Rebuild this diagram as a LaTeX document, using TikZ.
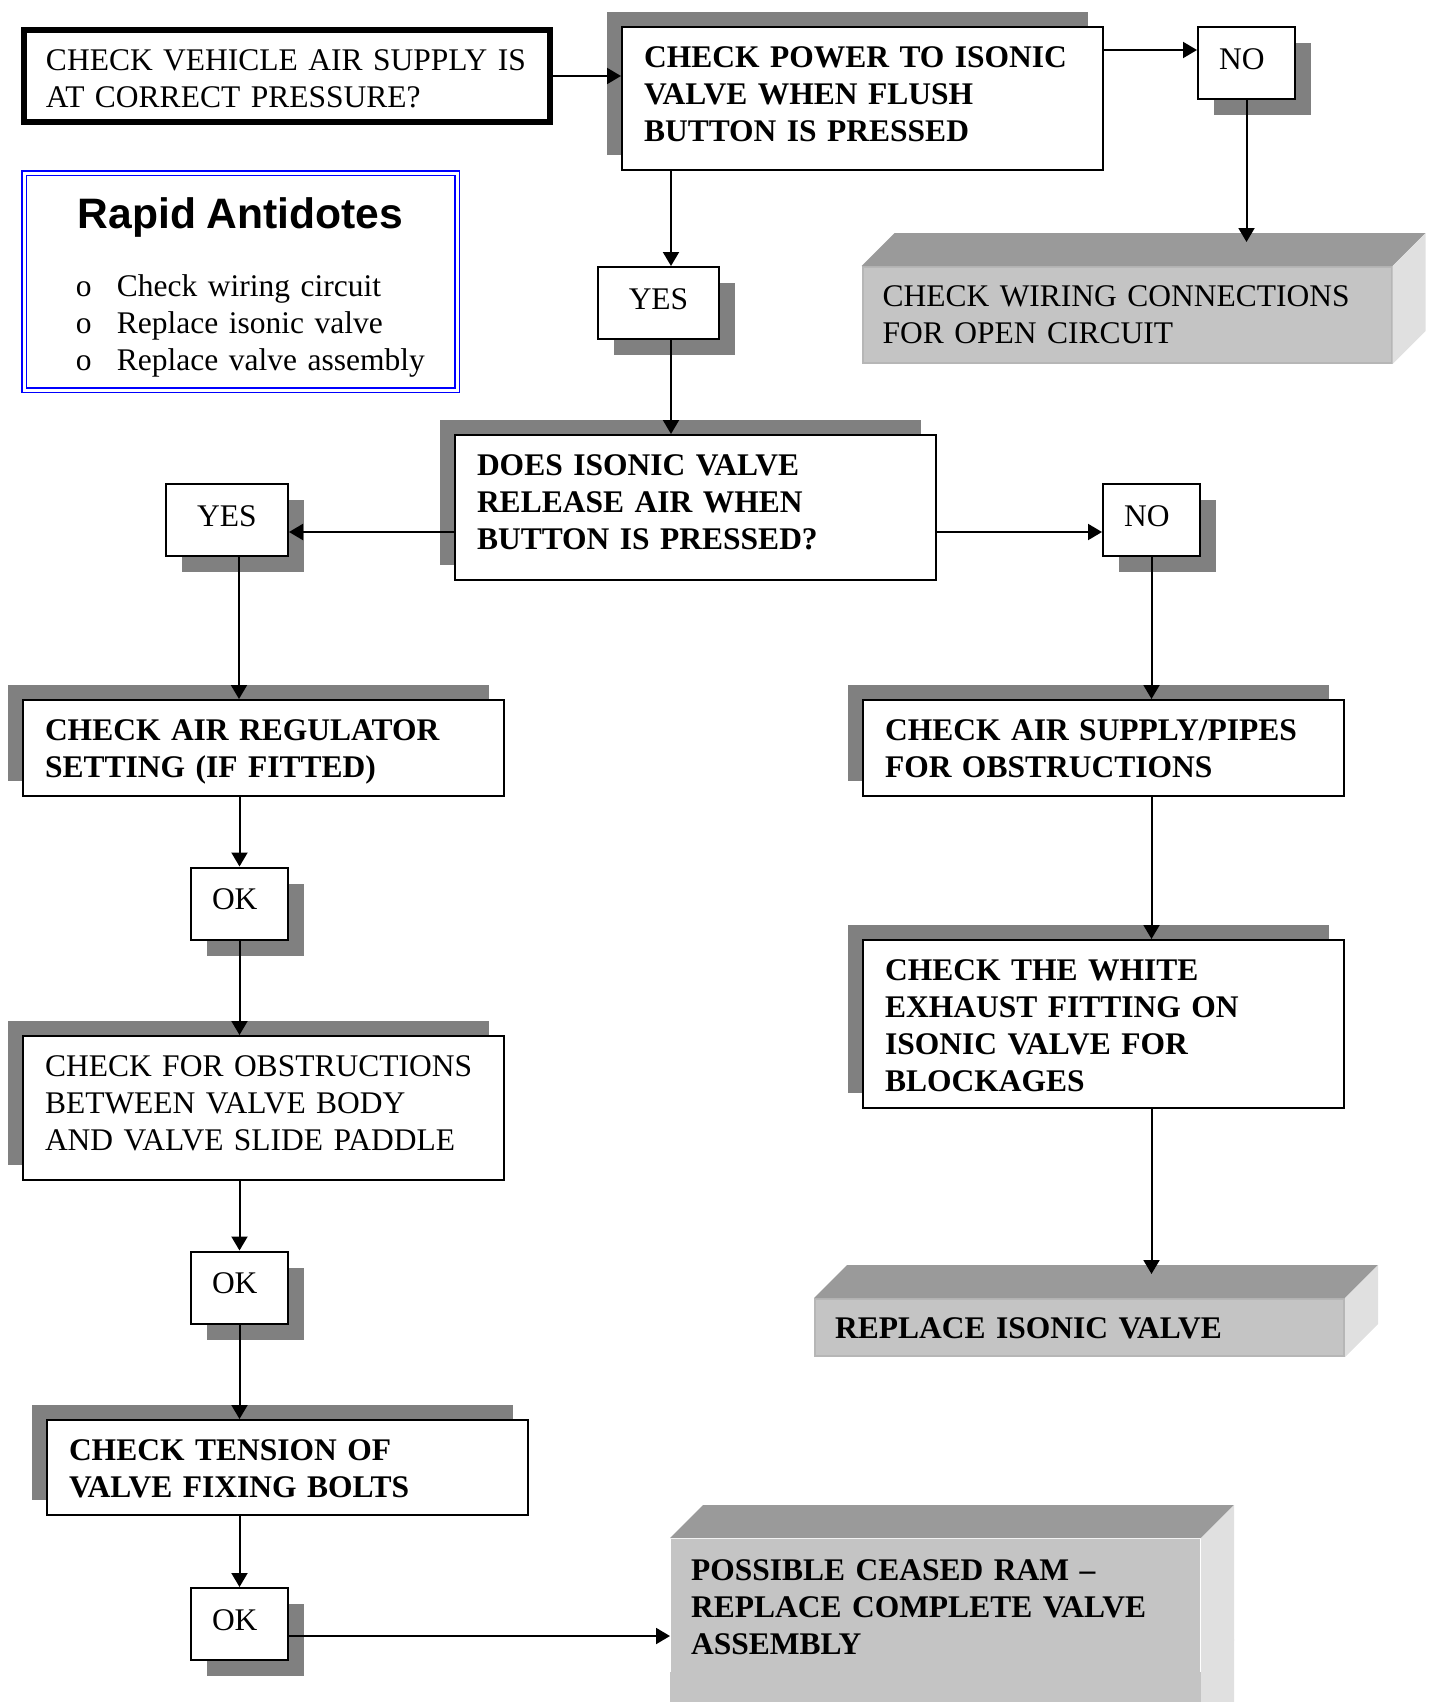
\documentclass[tikz,border=0pt]{standalone}
\usepackage{fontspec}
\usepackage{xcolor}
\setmainfont{Liberation Serif}[WordSpace=0.75]
\newfontfamily\headfont{Liberation Sans}
\usetikzlibrary{arrows.meta,shadows}

\definecolor{shadowgray}{HTML}{808080}
\definecolor{facefront}{HTML}{C4C4C4}
\definecolor{faceedge}{HTML}{B6B6B6}
\definecolor{facetop}{HTML}{9A9A9A}
\definecolor{faceside}{HTML}{E0E0E0}
\definecolor{antiblue}{HTML}{0000FF}

\newcommand\boxfont{\fontsize{15.75pt}{18.5pt}\selectfont}

\tikzset{
  every node/.style={font=\boxfont},
  toptext/.style={inner ysep=0pt, text height=20.3pt, text depth=#1},
  stepbox/.style={draw, line width=1pt, fill=white, align=left, inner xsep=11pt,
    text width=218.5pt, minimum width=240.5pt,
    drop shadow={shadow xshift=-7.5pt, shadow yshift=7.5pt, fill=shadowgray, opacity=1}},
  boldbox/.style={stepbox, font=\boxfont\bfseries},
  answer/.style={draw, line width=1pt, fill=white, minimum height=36pt, inner sep=0pt,
    text depth=4.4pt,
    drop shadow={shadow xshift=8pt, shadow yshift=-8pt, fill=shadowgray, opacity=1}},
  answerleft/.style={answer, align=left, inner xsep=10.5pt, text width=27.5pt,
    minimum width=48.5pt},
  slab/.style={fill=facefront, draw=faceedge, line width=1pt, align=left,
    inner xsep=10pt, text width=244.5pt, minimum width=264.5pt, font=\boxfont\bfseries},
  arr/.style={line width=1pt, -{Triangle[length=7pt,width=8pt]}}
}

\begin{document}
\begin{tikzpicture}[x=0.5pt, y=-0.5pt]
      \def\depth{33}
      \clip (0,0) rectangle (1435,1702);

      \node[draw, line width=3pt, align=left, inner xsep=11pt, text width=241pt,
        minimum width=263pt, minimum height=46pt, toptext=25.7pt] (supply) at (287,76)
        {CHECK VEHICLE AIR SUPPLY IS\\AT CORRECT PRESSURE?};
      \node[boldbox, minimum height=71.5pt, toptext=51.2pt] (power) at (862.5,98.5)
        {CHECK POWER TO ISONIC\\VALVE WHEN FLUSH\\BUTTON IS PRESSED};
      \node[answerleft] (nopower) at (1246.5,63) {NO};
      \node[slab, minimum height=48pt, toptext=28.3pt, text height=19.7pt, font=\boxfont]
        (wiring) at (1127,315) {CHECK WIRING CONNECTIONS\\FOR OPEN CIRCUIT};

      \node[draw=antiblue, double, double distance=1.5pt, line width=0.75pt,
        minimum width=216.5pt, minimum height=108.5pt, text width=216.5pt,
        inner sep=0pt, text height=27.5pt, text depth=81pt] (antidotes) at (240.5,281.5)
        {{\centering\headfont\bfseries\fontsize{21.3pt}{24pt}\selectfont Rapid Antidotes\par}
         \vspace{15.5pt}
         \hspace*{26pt}\makebox[20.5pt][l]{o}Check wiring circuit\par
         \hspace*{26pt}\makebox[20.5pt][l]{o}Replace isonic valve\par
         \hspace*{26pt}\makebox[20.5pt][l]{o}Replace valve assembly\par};

      \node[answer, minimum width=60.5pt] (yespower) at (658.5,303) {YES};
      \node[boldbox, minimum height=72.5pt, toptext=52.2pt] (release) at (695.5,507.5)
        {DOES ISONIC VALVE\\RELEASE AIR WHEN\\BUTTON IS PRESSED?};
      \node[answer, minimum width=61pt] (yesair) at (227,520) {YES};
      \node[answerleft] (noair) at (1151.5,520) {NO};

      \node[boldbox, minimum height=48pt, toptext=27.7pt] (regulator) at (263.5,748)
        {CHECK AIR REGULATOR\\SETTING (IF FITTED)};
      \node[boldbox, minimum height=48pt, toptext=27.7pt] (pipes) at (1103.5,748)
        {CHECK AIR SUPPLY/PIPES\\FOR OBSTRUCTIONS};
      \node[answerleft] (okregulator) at (239.5,903.5) {OK};
      \node[stepbox, minimum height=72pt, toptext=51.7pt] (paddle) at (263.5,1108)
        {CHECK FOR OBSTRUCTIONS\\BETWEEN VALVE BODY\\AND VALVE SLIDE PADDLE};
      \node[boldbox, minimum height=84pt, toptext=63.7pt] (exhaust) at (1103.5,1024)
        {CHECK THE WHITE\\EXHAUST FITTING ON\\ISONIC VALVE FOR\\BLOCKAGES};
      \node[answerleft] (okpaddle) at (239.5,1287.5) {OK};
      \node[slab, minimum height=28.5pt, toptext=9pt, text height=19.5pt]
        (replace) at (1079.5,1327.5) {REPLACE ISONIC VALVE};
      \node[boldbox, minimum height=47.5pt, toptext=27.2pt] (bolts) at (287.5,1467.5)
        {CHECK TENSION OF\\VALVE FIXING BOLTS};
      \node[answerleft] (okbolts) at (239.5,1624) {OK};
      \node[slab, draw=none, minimum height=67pt, toptext=46.5pt, text height=20.5pt]
        (ram) at (935.5,1606)
        {POSSIBLE CEASED RAM –\\REPLACE COMPLETE VALVE\\ASSEMBLY};

      \fill[facefront] ([yshift=1pt]ram.south west) rectangle ([yshift=-60pt]ram.south east);
      \foreach \s in {wiring,replace,ram} {
        \fill[facetop] (\s.north west) -- ++(\depth,-\depth)
          -- ([shift={(\depth,-\depth)}]\s.north east) -- (\s.north east) -- cycle;
        \fill[faceside] (\s.north east) -- ++(\depth,-\depth)
          -- ([shift={(\depth,-\depth)}]\s.south east) -- (\s.south east) -- cycle;
      }
      \fill[faceside] ([yshift=1pt]ram.south east) -- ([shift={(\depth,-\depth-2)}]ram.south east)
        -- ++(0,200) -- ++(-\depth,0) -- cycle;

      \coordinate (noin) at ([yshift=6.5pt]nopower.west);
      \coordinate (yesin) at ([xshift=6.25pt]yespower.north);
      \coordinate (yesleft) at ([yshift=-6pt]yesair.east);
      \coordinate (noright) at ([yshift=-6pt]noair.west);
      \coordinate (yesdown) at ([xshift=6pt]yesair.south);
      \coordinate (okright) at ([yshift=-6pt]okbolts.east);
      \path (nopower.south |- wiring.north) ++(0,-24) coordinate (wiringtop);
      \path (noair.south |- replace.north) ++(0,-24) coordinate (replacetop);

      \draw[arr] (supply.east) -- (supply.east -| power.west);
      \draw[arr] (power.east |- noin) -- (noin);
      \draw[arr] (nopower.south) -- (wiringtop);
      \draw[arr] (power.south -| yesin) -- (yesin);
      \draw[arr] (yesin |- yespower.south) -- (yesin |- release.north);
      \draw[arr] (release.west |- yesleft) -- (yesleft);
      \draw[arr] (release.east |- noright) -- (noright);
      \draw[arr] (yesdown) -- (yesdown |- regulator.north);
      \draw[arr] (okregulator.north |- regulator.south) -- (okregulator.north);
      \draw[arr] (okregulator.south) -- (okregulator.south |- paddle.north);
      \draw[arr] (okpaddle.north |- paddle.south) -- (okpaddle.north);
      \draw[arr] (okpaddle.south) -- (okpaddle.south |- bolts.north);
      \draw[arr] (okbolts.north |- bolts.south) -- (okbolts.north);
      \draw[arr] (okright) -- (okright -| ram.west);
      \draw[arr] (noair.south) -- (noair.south |- pipes.north);
      \draw[arr] (noair.south |- pipes.south) -- (noair.south |- exhaust.north);
      \draw[arr] (noair.south |- exhaust.south) -- (replacetop);
    \end{tikzpicture}
\end{document}
